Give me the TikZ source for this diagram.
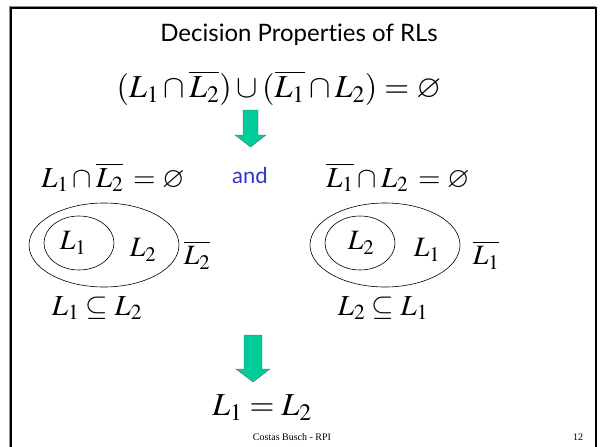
\documentclass[tikz,border=0pt]{standalone}
\usepackage{mathptmx}
\usepackage{amssymb}
\usepackage{fontspec}
\setmainfont{Liberation Serif}
\newfontfamily\gill[Ligatures={NoCommon,NoContextual}]{Lato}
\definecolor{arrowgreen}{RGB}{0,204,153}
\definecolor{andblue}{RGB}{51,51,204}
\begin{document}
\begin{tikzpicture}[x=1pt,y=-1pt,
  every node/.style={inner sep=0pt,outer sep=0pt},
  titletext/.style={font=\gill\fontsize{24}{28}\selectfont},
  andtext/.style={font=\gill\fontsize{22}{26}\selectfont,text=andblue},
  bigmath/.style={font=\fontsize{32}{36}\selectfont},
  midmath/.style={font=\fontsize{29}{34}\selectfont},
  lbl/.style={font=\fontsize{28}{32}\selectfont},
  foot/.style={font=\fontsize{10}{12}\selectfont},
  greenarrow/.style={fill=arrowgreen,draw=black!60,line width=0.4pt},
  ell/.style={draw=black,line width=0.6pt}]
\useasboundingbox (0,0) rectangle (600,447);
% frame
\draw[black!45,line width=1pt] (9.5,6) -- (596,6);
\draw[black!45,line width=1pt] (9.5,6) -- (9.5,450);
\draw[black,line width=2pt] (11,8) -- (596,8) -- (596,450);
\draw[black,line width=2pt] (11,7) -- (11,450);

\node[titletext] (title) at (299,35) {Decision Properties of RLs};
\node[bigmath] (f1) at (279,88) {$(L_1\cap\overline{L_2})\cup(\overline{L_1}\cap L_2)=\varnothing$};

\draw[greenarrow] (243,110) -- (258,110) -- (258,135) -- (266,135) -- (250.5,147) -- (235,135) -- (243,135) -- cycle;

\node[midmath] (left) at (113,177) {$L_1\cap\overline{L_2}\,=\varnothing$};
\node[andtext] (and) at (250,175) {and};
\node[midmath] (right) at (398,177) {$\overline{L_1}\cap L_2\,=\varnothing$};

% left Venn
\draw[ell] (104,245) ellipse (75 and 42);
\draw[ell] (79,243) ellipse (35 and 27);
\node[lbl] (la1) at (73,243) {$L_1$};
\node[lbl] (la2) at (143,250) {$L_2$};
\node[lbl] (la3) at (197,255) {$\overline{L_2}$};
% right Venn
\draw[ell] (385,245) ellipse (75 and 42);
\draw[ell] (360,243) ellipse (35 and 27);
\node[lbl] (rb1) at (361,243) {$L_2$};
\node[lbl] (rb2) at (427,250) {$L_1$};
\node[lbl] (rb3) at (486,255) {$\overline{L_1}$};

\node[midmath] (sub1) at (97,308) {$L_1\subseteq L_2$};
\node[midmath] (sub2) at (383,308) {$L_2\subseteq L_1$};

\draw[greenarrow] (244,335) -- (262,335) -- (262,369) -- (270,369) -- (253,382) -- (236,369) -- (244,369) -- cycle;

\node[bigmath] (eq) at (262,408) {$L_1=L_2$};

\node[foot] (footer) at (292,437) {Costas Busch - RPI};
\node[foot] (page) at (578,437) {12};
\end{tikzpicture}
\end{document}
